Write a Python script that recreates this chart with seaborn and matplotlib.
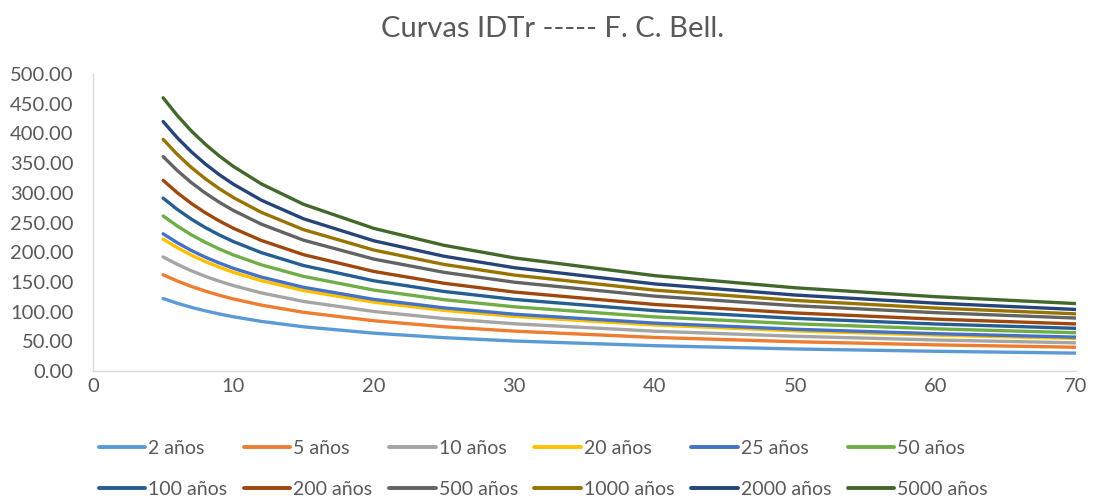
import matplotlib
matplotlib.use("Agg")
import matplotlib.pyplot as plt
import seaborn as sns
import pandas as pd
from matplotlib.lines import Line2D

# ---- data ----
duracion = [5, 6, 7, 8, 9, 10, 12, 15, 20, 25, 30, 40, 50, 60, 70]

i_2 = [122, 114.1, 107.2, 101.3, 96.0, 91.3, 83.5, 74.4, 63.7, 56.1, 50.5, 42.6, 37.1, 33.2, 30.1]
i_5 = [162, 151.6, 142.4, 134.5, 127.5, 121.3, 110.9, 98.8, 84.6, 74.5, 67.1, 56.5, 49.3, 44.0, 40.0]
i_10 = [192, 179.6, 168.8, 159.4, 151.1, 143.8, 131.4, 117.1, 100.2, 88.3, 79.5, 67.0, 58.5, 52.2, 47.4]
i_20 = [222, 207.7, 195.1, 184.3, 174.7, 166.2, 152.0, 135.4, 115.9, 102.1, 91.9, 77.5, 67.6, 60.4, 54.8]
i_25 = [231, 216.1, 203.0, 191.7, 181.8, 172.9, 158.1, 140.9, 120.6, 106.3, 95.6, 80.6, 70.3, 62.8, 57.0]
i_50 = [261, 244.2, 229.4, 216.6, 205.4, 195.4, 178.7, 159.2, 136.2, 120.1, 108.1, 91.1, 79.5, 71.0, 64.4]
i_100 = [291, 272.2, 255.8, 241.5, 229.0, 217.9, 199.2, 177.5, 151.9, 133.9, 120.5, 101.6, 88.6, 79.1, 71.8]
i_200 = [321, 300.3, 282.2, 266.4, 252.6, 240.3, 219.7, 195.8, 167.6, 147.7, 132.9, 112.0, 97.7, 87.3, 79.2]
i_500 = [361, 337.7, 317.3, 299.6, 284.1, 270.3, 247.1, 220.2, 188.4, 166.1, 149.5, 126.0, 109.9, 98.2, 89.1]
i_1000 = [390, 364.8, 342.8, 323.7, 306.9, 292.0, 267.0, 237.9, 203.6, 179.4, 161.5, 136.1, 118.8, 106.0, 96.2]
i_2000 = [420, 392.9, 369.2, 348.6, 330.5, 314.5, 287.5, 256.2, 219.2, 193.2, 173.9, 146.6, 127.9, 114.2, 103.6]
i_5000 = [460, 430.3, 404.3, 381.8, 362.0, 344.4, 314.9, 280.6, 240.1, 211.6, 190.4, 160.5, 140.1, 125.1, 113.5]

series_labels = ["2 años", "5 años", "10 años", "20 años", "25 años", "50 años",
                 "100 años", "200 años", "500 años", "1000 años", "2000 años", "5000 años"]
series_values = [i_2, i_5, i_10, i_20, i_25, i_50, i_100, i_200, i_500, i_1000, i_2000, i_5000]
series_colors = ["#5B9BD5", "#ED7D31", "#A5A5A5", "#FFC000", "#4472C4", "#70AD47",
                 "#255E91", "#9E480E", "#636363", "#997300", "#264478", "#43682B"]

x_ticks = [0, 10, 20, 30, 40, 50, 60, 70]
y_ticks = [0, 50, 100, 150, 200, 250, 300, 350, 400, 450, 500]
title = "Curvas IDTr ----- F. C. Bell."

# ---- build long-form table ----
rows = []
for lab, vals in zip(series_labels, series_values):
    for t, v in zip(duracion, vals):
        rows.append({"t": t, "I": v, "serie": lab})
df = pd.DataFrame(rows)

sns.set_style("white")
plt.rcParams["font.family"] = ["Lato", "DejaVu Sans"]

fig = plt.figure(figsize=(10.93, 5.00), dpi=100)
ax = fig.add_axes([0.085, 0.258, 0.8995, 0.594])

palette = dict(zip(series_labels, series_colors))
sns.lineplot(data=df, x="t", y="I", hue="serie", hue_order=series_labels,
             palette=palette, linewidth=2.4, ax=ax, legend=False, sort=True)

ax.set_xlim(0, 70)
ax.set_ylim(0, 500)
ax.set_xticks(x_ticks)
ax.set_yticks(y_ticks)
ax.set_yticklabels([f"{v:.2f}" for v in y_ticks])
ax.set_xlabel("")
ax.set_ylabel("")
ax.tick_params(axis="both", length=0, labelsize=14.5, colors="#595959", pad=5)
ax.tick_params(axis="y", pad=14)
for s in ["top", "right"]:
    ax.spines[s].set_visible(False)
for s in ["left", "bottom"]:
    ax.spines[s].set_color("#D9D9D9")
    ax.spines[s].set_linewidth(1.0)
ax.grid(False)

fig.text(0.506, 0.942, title, ha="center", va="center", fontsize=21, color="#595959")

# legend: two rows of six, row-major order
handles = [Line2D([0], [0], color=c, lw=2.8) for c in series_colors]
order = []
for j in range(6):
    order += [j, j + 6]
leg = fig.legend([handles[k] for k in order], [series_labels[k] for k in order],
                 ncol=6, loc="center", bbox_to_anchor=(0.497, 0.062),
                 frameon=False, fontsize=14, handlelength=2.4, handletextpad=0.15,
                 columnspacing=0.85, labelspacing=1.25)
for t in leg.get_texts():
    t.set_color("#595959")

fig.savefig("out.png", dpi=100)
